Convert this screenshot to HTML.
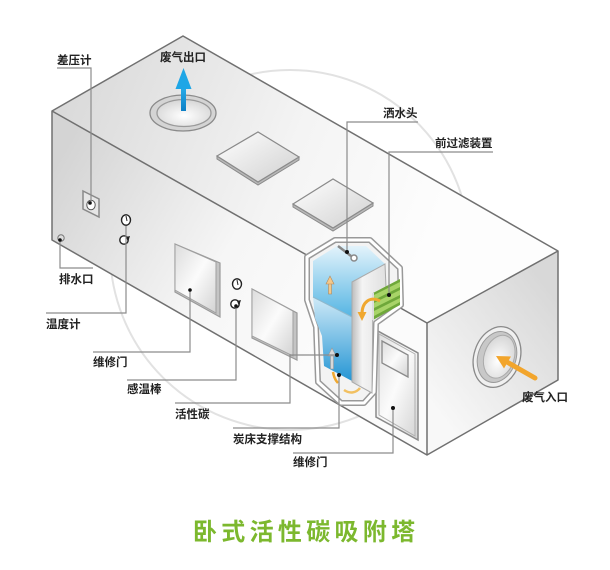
<!DOCTYPE html>
<html><head><meta charset="utf-8"><style>
html,body{margin:0;padding:0;background:#fff;}
svg{display:block;}
text{font-family:"Liberation Sans","Noto Sans CJK SC",sans-serif;font-weight:bold;fill:#222;font-size:11.5px;}
</style></head><body>
<svg width="610" height="570" viewBox="0 0 610 570" xmlns="http://www.w3.org/2000/svg">
<defs>
<linearGradient id="gTop" gradientUnits="userSpaceOnUse" x1="52" y1="111" x2="420" y2="260"><stop offset="0" stop-color="#d9d9d9"/><stop offset="0.6" stop-color="#f4f4f4"/><stop offset="1" stop-color="#fdfdfd"/></linearGradient>
<linearGradient id="gFront" gradientUnits="userSpaceOnUse" x1="52" y1="170" x2="330" y2="330"><stop offset="0" stop-color="#d4d4d4"/><stop offset="0.6" stop-color="#f6f6f6"/><stop offset="1" stop-color="#fbfbfb"/></linearGradient>
<linearGradient id="gEnd" gradientUnits="userSpaceOnUse" x1="427" y1="400" x2="558" y2="300"><stop offset="0" stop-color="#f8f8f8"/><stop offset="1" stop-color="#d8d8d8"/></linearGradient>
<linearGradient id="gPanel" x1="0" y1="0" x2="1" y2="1"><stop offset="0" stop-color="#fff"/><stop offset="1" stop-color="#d0d0d0"/></linearGradient>
<linearGradient id="gDoor" x1="0" y1="0" x2="1" y2="1"><stop offset="0" stop-color="#dcdcdc"/><stop offset="0.5" stop-color="#fbfbfb"/><stop offset="1" stop-color="#d2d2d2"/></linearGradient>
<linearGradient id="gBlue1" x1="0" y1="0" x2="0" y2="1"><stop offset="0" stop-color="#e3f3fb"/><stop offset="1" stop-color="#55b5e3"/></linearGradient>
<linearGradient id="gBlue2" x1="0" y1="0" x2="0" y2="1"><stop offset="0" stop-color="#cfeaf7"/><stop offset="1" stop-color="#2596d4"/></linearGradient>
<linearGradient id="gWall" x1="0" y1="0" x2="1" y2="0"><stop offset="0" stop-color="#bdbdbd"/><stop offset="0.3" stop-color="#f4f4f4"/><stop offset="1" stop-color="#e0e0e0"/></linearGradient>
<linearGradient id="gBlueArrow" x1="0" y1="0" x2="0" y2="1"><stop offset="0" stop-color="#2cb1ec"/><stop offset="1" stop-color="#0c7fc6"/></linearGradient>
<radialGradient id="gHole" cx="0.5" cy="0.6" r="0.6"><stop offset="0" stop-color="#ffffff"/><stop offset="1" stop-color="#d6d6d6"/></radialGradient>
</defs>

<!-- background circle -->
<circle cx="290" cy="250" r="180" fill="none" stroke="#e2e2e2" stroke-width="2"/>

<!-- box faces -->
<polygon points="52,111 183,36 558,251 427,323" fill="url(#gTop)"/>
<polygon points="52,111 427,323 427,455 52,240" fill="url(#gFront)"/>
<polygon points="427,323 558,251 558,380 427,455" fill="url(#gEnd)"/>
<g fill="none" stroke="#707070" stroke-width="1.5" stroke-linejoin="round">
<polygon points="52,111 183,36 558,251 558,380 427,455 52,240"/>
<line x1="52" y1="111" x2="427" y2="323"/>
<line x1="427" y1="323" x2="558" y2="251"/>
<line x1="427" y1="323" x2="427" y2="455"/>
</g>

<!-- exhaust outlet -->
<ellipse cx="183" cy="113" rx="33" ry="18" fill="#d4d4d4" stroke="#8a8a8a" stroke-width="1.3"/>
<ellipse cx="184" cy="113" rx="27" ry="13.5" fill="url(#gHole)" stroke="#9a9a9a" stroke-width="1.3"/>
<rect x="181" y="85" width="5" height="26" fill="url(#gBlueArrow)"/>
<polygon points="175.5,89 183.5,68 191.5,89" fill="#1ea6e6"/>

<!-- top panels -->
<polygon points="217,156 258,182 299,157 299,160 258,185 217,159" fill="#b8b8b8" stroke="#8a8a8a" stroke-width="1"/>
<polygon points="217,156 258,132 299,157 258,182" fill="url(#gPanel)" stroke="#8a8a8a" stroke-width="1.2"/>
<polygon points="293,204 333,228 373,203 373,206 333,231 293,207" fill="#b8b8b8" stroke="#8a8a8a" stroke-width="1"/>
<polygon points="293,204 333,179 373,203 333,228" fill="url(#gPanel)" stroke="#8a8a8a" stroke-width="1.2"/>

<!-- pressure gauge -->
<polygon points="83,191 99,199 99,217 83,209" fill="#e6e6e6" stroke="#8a8a8a" stroke-width="1.5"/>
<ellipse cx="91" cy="205" rx="4.2" ry="4.8" fill="#fff" stroke="#555" stroke-width="1"/>
<!-- drain -->
<circle cx="61" cy="238" r="3.2" fill="#ddd" stroke="#777" stroke-width="1"/>

<!-- gauges 1 -->
<ellipse cx="126" cy="220" rx="4.5" ry="5.2" fill="#fff" stroke="#222" stroke-width="1.4"/>
<line x1="126" y1="216" x2="127" y2="221" stroke="#222" stroke-width="1"/>
<ellipse cx="124" cy="240" rx="4.2" ry="4.2" fill="#fff" stroke="#222" stroke-width="1.4"/>
<path d="M126,237 L130,236 L128,242 Z" fill="#222"/>
<!-- gauges 2 -->
<ellipse cx="237" cy="284" rx="4.5" ry="5.2" fill="#fff" stroke="#222" stroke-width="1.4"/>
<line x1="237" y1="280" x2="238" y2="285" stroke="#222" stroke-width="1"/>
<ellipse cx="235" cy="304" rx="4.2" ry="4.2" fill="#fff" stroke="#222" stroke-width="1.4"/>
<path d="M237,301 L241,300 L239,306 Z" fill="#222"/>

<!-- door 1 -->
<polygon points="175,244 220,263 220,317 175,292" fill="#c4c4c4" stroke="#9a9a9a" stroke-width="1.2"/>
<polygon points="175,244 216,262 216,313 175,290" fill="url(#gDoor)" stroke="#a0a0a0" stroke-width="1"/>
<!-- door 2 (carbon) -->
<polygon points="252,289 297,313 297,360 252,338" fill="#c4c4c4" stroke="#9a9a9a" stroke-width="1.2"/>
<polygon points="252,289 293,311 293,356 252,336" fill="url(#gDoor)" stroke="#a0a0a0" stroke-width="1"/>

<!-- right door -->
<polygon points="376,330 418,353 418,440 376,417" fill="url(#gDoor)" stroke="#8a8a8a" stroke-width="1.5"/>
<polygon points="379,334 415,354 415,436 379,415" fill="none" stroke="#b0b0b0" stroke-width="1"/>
<polygon points="382,341 408,355 408,377 382,363" fill="url(#gDoor)" stroke="#8a8a8a" stroke-width="1.3"/>

<!-- inlet -->
<g transform="rotate(18 497 357)">
<ellipse cx="497" cy="357" rx="23" ry="31" fill="#f0f0f0" stroke="#8a8a8a" stroke-width="1.3"/>
<ellipse cx="497" cy="357" rx="19" ry="26" fill="#c8c8c8" stroke="#9a9a9a" stroke-width="1"/>
<ellipse cx="499" cy="356" rx="15" ry="22" fill="url(#gHole)" stroke="#aaa" stroke-width="1"/>
</g>
<line x1="535" y1="378" x2="507" y2="362" stroke="#f2a52c" stroke-width="5" stroke-linecap="round"/>
<polygon points="496,356 511,356.5 504,368.5" fill="#f2a52c"/>

<!-- cutaway -->
<polygon points="307,257 335,240 370,240 400,268 401,305 376,323 374,392 364,403 341,403 318,382 316,327 307,300" fill="#f3f3f3" stroke="#999" stroke-width="6" stroke-linejoin="round"/>
<polygon points="307,257 335,240 370,240 400,268 401,305 376,323 374,392 364,403 341,403 318,382 316,327 307,300" fill="none" stroke="#fff" stroke-width="3" stroke-linejoin="round"/>
<polygon points="313,261 337,246 366,246 385,264 352,282 352,317 313,297" fill="url(#gBlue1)"/>
<polygon points="313,297 352,317 352,381 324,366 322,336 315,318" fill="url(#gBlue2)"/>
<line x1="313" y1="297" x2="352" y2="317" stroke="#8fb8cc" stroke-width="1"/>
<polygon points="352,282 385,264 386,287 373,294 372,393 352,382" fill="url(#gWall)" stroke="#aaa" stroke-width="1"/>
<!-- filter -->
<polygon points="373,293 400,279 400,305 373,320" fill="#6fa83a"/>
<polygon points="374,295 400,282 400,287 374,300" fill="#a8d468"/>
<polygon points="374,303 400,290 400,295 374,308" fill="#a8d468"/>
<polygon points="374,311 400,298 400,302 374,316" fill="#a8d468"/>
<line x1="373" y1="293" x2="373" y2="320" stroke="#ddd" stroke-width="2"/>
<!-- orange curved arrow -->
<path d="M380,301 C370,296 362,302 362,314" fill="none" stroke="#f0a830" stroke-width="3"/>
<polygon points="357.5,312 366.5,312 362,321" fill="#f0a830"/>
<!-- up arrows -->
<rect x="328.5" y="283" width="3" height="11" fill="#f4c88a" stroke="#b08a60" stroke-width="0.6"/>
<polygon points="326,284 330,276 334,284" fill="#f4c88a" stroke="#b08a60" stroke-width="0.6"/>
<rect x="330.5" y="355" width="3" height="14" fill="#d8d8d8" stroke="#999" stroke-width="0.6"/>
<polygon points="328,356 332,348 336,356" fill="#d8d8d8" stroke="#999" stroke-width="0.6"/>
<path d="M333,372 C334,378 336,381 338,383" fill="none" stroke="#f0a830" stroke-width="2.5"/>
<path d="M344,390 C350,394 356,393 360,388" fill="none" stroke="#f2c060" stroke-width="2.5"/>
<!-- sprinkler -->
<line x1="338" y1="246" x2="351" y2="256" stroke="#888" stroke-width="2.5"/>
<circle cx="354" cy="258" r="3" fill="#fff" stroke="#888" stroke-width="1.5"/>

<!-- leader lines -->
<g fill="none" stroke="#8c8c8c" stroke-width="1.2">
<polyline points="91,203 91,68 57,68"/>
<polyline points="347,252 347,122 418,122"/>
<polyline points="389,295 389,152 493,152"/>
<polyline points="60,240 60,268 93,268"/>
<polyline points="126,226 126,313 46,313"/>
<polyline points="190,290 190,352 93,352"/>
<polyline points="236,307 236,380 127,380"/>
<polyline points="337,355 290,355 290,403 175,403"/>
<polyline points="339,375 339,428 233,428"/>
<polyline points="393,408 393,453 293,453"/>
</g>
<g fill="#111">
<circle cx="90" cy="203" r="1.8"/>
<circle cx="60" cy="240" r="1.8"/>
<circle cx="190" cy="290" r="1.8"/>
<circle cx="236" cy="306" r="1.8"/>
<circle cx="347" cy="252" r="2"/>
<circle cx="389" cy="295" r="2"/>
<circle cx="337" cy="355" r="2"/>
<circle cx="339" cy="375" r="2"/>
<circle cx="393" cy="408" r="2"/>
</g>

<!-- labels -->
<text x="57" y="64">差压计</text>
<text x="160" y="61">废气出口</text>
<text x="383" y="117">洒水头</text>
<text x="435" y="147">前过滤装置</text>
<text x="59" y="283">排水口</text>
<text x="46" y="328">温度计</text>
<text x="93" y="366">维修门</text>
<text x="127" y="393">感温棒</text>
<text x="175" y="418">活性碳</text>
<text x="233" y="443">炭床支撑结构</text>
<text x="293" y="466">维修门</text>
<text x="522" y="401">废气入口</text>

<text x="193" y="540" style="font-size:24px;fill:#7cb82e;letter-spacing:4.3px;">卧式活性碳吸附塔</text>
</svg>
</body></html>
